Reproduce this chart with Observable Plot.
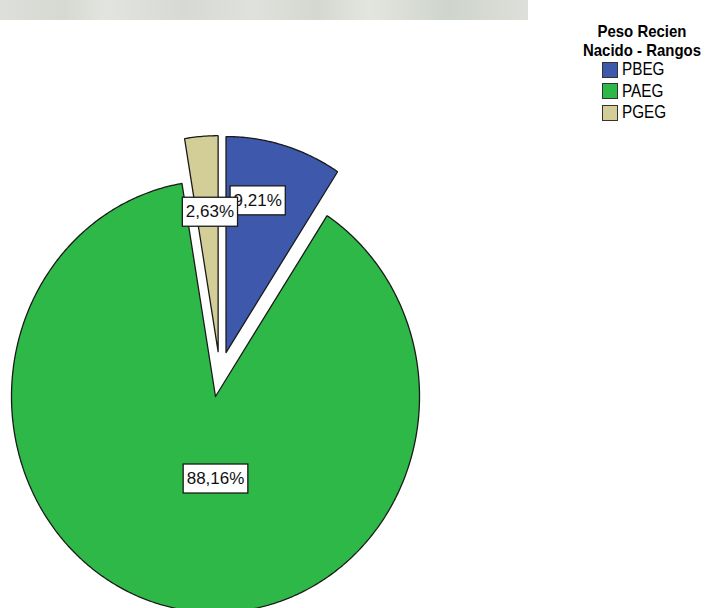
<!DOCTYPE html>
<html>
<head>
<meta charset="utf-8">
<script src="https://cdn.jsdelivr.net/npm/d3@7"></script>
<script src="https://cdn.jsdelivr.net/npm/@observablehq/plot@0.6"></script>
<style>
  html, body { margin: 0; padding: 0; background: #fff; }
  #wrap { position: relative; width: 708px; height: 608px; overflow: hidden; font-family: "Liberation Sans", Arial, sans-serif; }
  #band { position: absolute; left: 0; top: 0; width: 528px; height: 20px;
    background: linear-gradient(90deg, #dde0da 0%, #d5d9d2 12%, #e2e5df 20%, #d7dad4 35%, #dfe2dc 48%, #d4d8d1 60%, #e3e6e0 70%, #cfd4cc 85%, #dde0da 100%); }
  #chart { position: absolute; left: 0; top: 0; }
  #legend-title { position: absolute; left: 560px; top: 22px; width: 164px; text-align: center;
    font-weight: bold; font-size: 17px; line-height: 19px; color: #000;
    transform: scaleX(0.88); transform-origin: 82px 0; }
  #legend-items { position: absolute; left: 602px; top: 59px; }
  .item { height: 21.5px; display: flex; align-items: center; }
  .sw { width: 14px; height: 14px; border: 1px solid #333; box-sizing: content-box; }
  .lbl { margin-left: 4px; font-size: 18px; transform: scaleX(0.85); transform-origin: 0 50%; color: #000; }
</style>
</head>
<body>
<div id="wrap">
  <div id="band"></div>
  <div id="chart"></div>
  <div id="legend-title">Peso Recien<br>Nacido - Rangos</div>
  <div id="legend-items"></div>
</div>
<script>
// ---- data ----
const categories = ["PBEG", "PAEG", "PGEG"];
const percents = [9.21, 88.16, 2.63];
const colors = ["#3E58AC", "#2EB848", "#D3CE97"];

// ---- build slice outlines (clockwise from 12 o'clock, all slices exploded) ----
const explode = 0.105;
const slicePts = [];
const labelRows = [];
let acc = 0;
categories.forEach((cat, i) => {
  const a0 = acc / 100 * 2 * Math.PI;
  acc += percents[i];
  const a1 = acc / 100 * 2 * Math.PI;
  const mid = (a0 + a1) / 2;
  const ox = explode * Math.sin(mid), oy = explode * Math.cos(mid);
  slicePts.push({cat, x: ox, y: oy});
  const n = Math.max(4, Math.ceil((a1 - a0) / 0.01));
  for (let k = 0; k <= n; k++) {
    const t = a0 + (a1 - a0) * k / n;
    slicePts.push({cat, x: ox + Math.sin(t), y: oy + Math.cos(t)});
  }
  slicePts.push({cat, x: ox, y: oy});
  // label placement: small slices near the rim (angle pulled toward vertical),
  // the dominant slice straight below its apex
  let la, r;
  if (percents[i] < 50) {
    const dev = mid > Math.PI ? mid - 2 * Math.PI : mid;
    la = dev * 0.75;
    r = 0.62 + 0.011 * percents[i];
  } else {
    la = Math.PI;
    r = 0.38;
  }
  labelRows.push({
    cat,
    label: percents[i].toFixed(2).replace(".", ",") + "%",
    x: ox + r * Math.sin(la),
    y: oy + r * Math.cos(la)
  });
});
// draw blue label, then tan (overlapping it), then green
const labelOrder = ["PBEG", "PGEG", "PAEG"];
labelRows.sort((a, b) => labelOrder.indexOf(a.cat) - labelOrder.indexOf(b.cat));

const cx = 219.4, cy = 373.8, rx = 204, ry = 216;

const chart = Plot.plot({
  width: 708,
  height: 608,
  margin: 0,
  style: {fontFamily: "'Liberation Sans', Arial, sans-serif", background: "transparent"},
  x: {domain: [-1, 1], range: [cx - rx, cx + rx], axis: null},
  y: {domain: [-1, 1], range: [cy + ry, cy - ry], axis: null},
  color: {domain: categories, range: colors},
  marks: [
    Plot.line(slicePts, {x: "x", y: "y", z: "cat", fill: "cat", stroke: "#1a1a1a", strokeWidth: 1.3, curve: "linear", strokeLinejoin: "miter"}),
    Plot.text(labelRows, {x: "x", y: "y", text: "label", fontSize: 17, fill: "#111"})
  ]
});
document.getElementById("chart").append(chart);

// white boxes with black borders behind the percentage labels
d3.select(chart).selectAll('g[aria-label="text"] text').each(function () {
  const b = this.getBBox();
  const rect = document.createElementNS("http://www.w3.org/2000/svg", "rect");
  rect.setAttribute("x", b.x - 3.5);
  rect.setAttribute("y", b.y - 5);
  rect.setAttribute("width", b.width + 7);
  rect.setAttribute("height", b.height + 10);
  rect.setAttribute("fill", "#fff");
  rect.setAttribute("stroke", "#1a1a1a");
  rect.setAttribute("stroke-width", "1.3");
  const tr = this.getAttribute("transform");
  if (tr) rect.setAttribute("transform", tr);
  this.parentNode.insertBefore(rect, this);
});

// legend
const items = d3.select("#legend-items");
categories.forEach((c, i) => {
  const row = items.append("div").attr("class", "item");
  row.append("div").attr("class", "sw").style("background", colors[i]);
  row.append("div").attr("class", "lbl").text(c);
});
</script>
</body>
</html>
